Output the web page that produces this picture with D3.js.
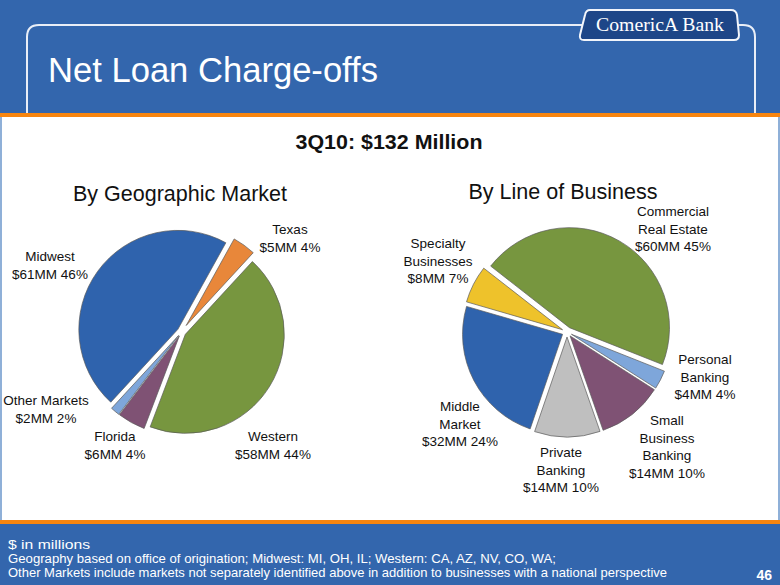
<!DOCTYPE html>
<html><head><meta charset="utf-8">
<script src="https://cdn.jsdelivr.net/npm/d3@7"></script>
<style>
html,body{margin:0;padding:0;background:#3366ad;}
svg{display:block;}
text{font-family:"Liberation Sans",Arial,sans-serif;}
text.serif{font-family:"Liberation Serif","DejaVu Serif",serif;}
</style></head>
<body><svg id="c" width="780" height="585"></svg>
<script>
// ---- data ----
const geoLabels = [["Texas"], ["Western"], ["Florida"], ["Other Markets"], ["Midwest"]];
const geoValues = [5, 58, 6, 2, 61];
const geoPct = ["4%", "44%", "4%", "2%", "46%"];
const geoColors = ["#e8873a", "#77963f", "#7f5274", "#7ea6da", "#2f63ad"];

const lobLabels = [["Commercial", "Real Estate"], ["Personal", "Banking"], ["Small", "Business", "Banking"], ["Private", "Banking"], ["Middle", "Market"], ["Specialty", "Businesses"]];
const lobValues = [60, 4, 14, 14, 32, 8];
const lobPct = ["45%", "4%", "10%", "10%", "24%", "7%"];
const lobColors = ["#77963f", "#7ea6da", "#7f5274", "#bfbfbf", "#2f63ad", "#eec22b"];

const totalText = "3Q10: $132 Million";
const footLines = ["$ in millions",
  "Geography based on office of origination; Midwest: MI, OH, IL;  Western: CA, AZ, NV, CO, WA;",
  "Other Markets include markets not separately identified above in addition to businesses with a national perspective"];

// ---- layout ----
const svg = d3.select("#c");
const W = 780, H = 585;

svg.append("rect").attr("width", W).attr("height", H).attr("fill", "#3366ad");

// header frame line
const frame = d3.path();
frame.moveTo(27, 113);
frame.lineTo(27, 37);
frame.quadraticCurveTo(27, 25, 39, 25);
frame.lineTo(585, 25);
frame.moveTo(736, 25);
frame.lineTo(743, 25);
frame.quadraticCurveTo(755, 25, 755, 37);
frame.lineTo(755, 113);
svg.append("path").attr("d", frame.toString()).attr("fill", "none")
  .attr("stroke", "#e9eef7").attr("stroke-width", 2);

// logo
const lg = svg.append("g");
lg.append("path")
  .attr("d", "M590,10 L731,10 Q736,10 737,15 L739,35 Q739,40 734,40 L584,40 Q579,40 580,35 L585,15 Q586,10 590,10 Z")
  .attr("fill", "#1d4688").attr("stroke", "#f2f5fb").attr("stroke-width", 2);
lg.append("text").attr("class", "serif").attr("x", 660).attr("y", 31).attr("text-anchor", "middle")
  .attr("font-size", 18)
  .attr("fill", "#fff").attr("textLength", 128).attr("lengthAdjust", "spacingAndGlyphs")
  .text("ComericA Bank");

// title
svg.append("text").attr("x", 48).attr("y", 82).attr("font-size", 35).attr("fill", "#fff")
  .attr("textLength", 330).attr("lengthAdjust", "spacingAndGlyphs")
  .text("Net Loan Charge-offs");

// white panel with orange rules
svg.append("rect").attr("x", 0).attr("y", 113).attr("width", W).attr("height", 411).attr("fill", "#f7850f");
svg.append("rect").attr("x", 0).attr("y", 117).attr("width", W).attr("height", 403).attr("fill", "#ffffff");
svg.append("rect").attr("x", 0).attr("y", 117).attr("width", 2).attr("height", 403).attr("fill", "#8fb0d8");
svg.append("rect").attr("x", 778).attr("y", 117).attr("width", 2).attr("height", 403).attr("fill", "#8fb0d8");

// headline
svg.append("text").attr("x", 389).attr("y", 149).attr("text-anchor", "middle")
  .attr("font-size", 20).attr("font-weight", "bold").attr("fill", "#111")
  .attr("textLength", 187).attr("lengthAdjust", "spacingAndGlyphs").text(totalText);

// subtitles
svg.append("text").attr("x", 180).attr("y", 201).attr("text-anchor", "middle")
  .attr("font-size", 22).attr("fill", "#111")
  .attr("textLength", 214).attr("lengthAdjust", "spacingAndGlyphs").text("By Geographic Market");
svg.append("text").attr("x", 563).attr("y", 199).attr("text-anchor", "middle")
  .attr("font-size", 22).attr("fill", "#111")
  .attr("textLength", 189).attr("lengthAdjust", "spacingAndGlyphs").text("By Line of Business");

function drawPie(cfg) {
  const pie = d3.pie().sort(null).value(d => d)
    .startAngle(cfg.start).endAngle(cfg.start + 2 * Math.PI);
  const arc = d3.arc().innerRadius(0).outerRadius(cfg.r);
  const arcs = pie(cfg.values);
  const g = svg.append("g").attr("transform", `translate(${cfg.cx},${cfg.cy})`);
  g.selectAll("path").data(arcs).join("path")
    .attr("d", arc)
    .attr("transform", (d, i) => {
      const m = (d.startAngle + d.endAngle) / 2;
      const e = cfg.explode[i];
      return `translate(${Math.sin(m) * e},${-Math.cos(m) * e})`;
    })
    .attr("fill", (d, i) => cfg.colors[i])
    .attr("stroke", "#5a5a5a").attr("stroke-width", 0.7)
    .attr("stroke-linejoin", "round");
  // labels
  arcs.forEach((d, i) => {
    const p = cfg.labelPos[i];
    const lines = cfg.labels[i].concat(["$" + cfg.values[i] + "MM " + cfg.pct[i]]);
    const t = svg.append("text").attr("text-anchor", "middle")
      .attr("font-size", 13.5).attr("fill", "#111");
    lines.forEach((ln, k) => {
      t.append("tspan").attr("x", p[0]).attr("y", p[1] + k * 17.5).text(ln);
    });
  });
}

drawPie({
  cx: 181.5, cy: 332, r: 99, start: 29 * Math.PI / 180,
  values: geoValues, colors: geoColors, labels: geoLabels, pct: geoPct,
  explode: [8, 4.5, 4.5, 4.5, 4.5],
  labelPos: [[290, 234], [273, 441], [115, 441], [46, 405], [50, 261]]
});

drawPie({
  cx: 567, cy: 332, r: 100, start: -52 * Math.PI / 180,
  values: lobValues, colors: lobColors, labels: lobLabels, pct: lobPct,
  explode: [5, 5, 5, 5, 5, 5],
  labelPos: [[673, 216], [705, 364], [667, 425], [561, 457], [460, 411], [438, 248]]
});

// footer
footLines.forEach((ln, i) => {
  svg.append("text").attr("x", 8).attr("y", 549 + i * 14).attr("font-size", 13)
    .attr("fill", "#fff").text(ln)
    .attr("textLength", [82, 548, 659][i]).attr("lengthAdjust", "spacingAndGlyphs");
});
svg.append("text").attr("x", 772).attr("y", 580).attr("text-anchor", "end")
  .attr("font-size", 14).attr("font-weight", "bold").attr("fill", "#fff").text("46");
</script>
</body></html>
